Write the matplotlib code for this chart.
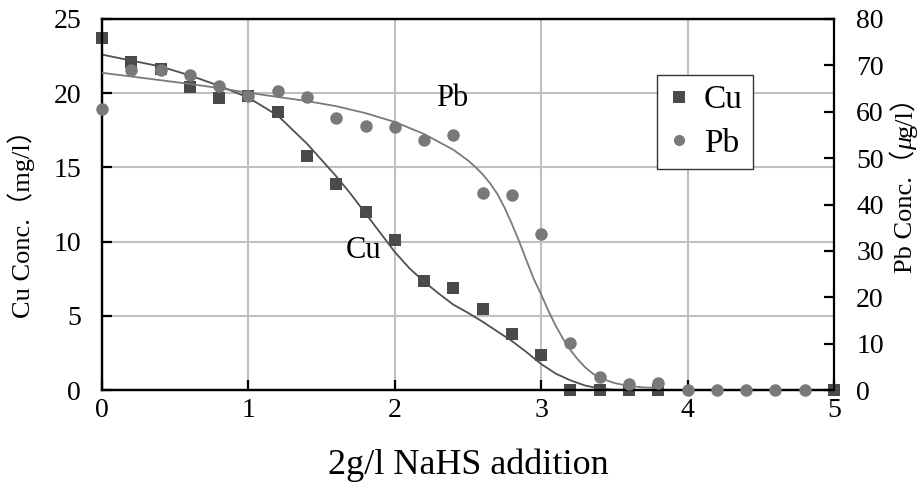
import numpy as np
import matplotlib
matplotlib.use("Agg")
import matplotlib.pyplot as plt
from matplotlib.lines import Line2D

plt.rcParams["font.family"] = ["Liberation Serif", "DejaVu Serif"]
SERIF_CJK = ["Liberation Serif", "Noto Sans CJK JP"]

# measured points
cu_x = [0.0, 0.2, 0.4, 0.6, 0.8, 1.0, 1.2, 1.4, 1.6, 1.8, 2.0, 2.2, 2.4,
        2.6, 2.8, 3.0, 3.2, 3.4, 3.6, 3.8, 5.0]
cu_y = [23.7, 22.1, 21.6, 20.4, 19.7, 19.8, 18.7, 15.8, 13.9, 12.0, 10.1, 7.35, 6.85,
        5.45, 3.75, 2.35, 0.0, 0.0, 0.0, 0.0, 0.0]

pb_x = [0.0, 0.2, 0.4, 0.6, 0.8, 1.0, 1.2, 1.4, 1.6, 1.8, 2.0, 2.2, 2.4,
        2.6, 2.8, 3.0, 3.2, 3.4, 3.6, 3.8, 4.0, 4.2, 4.4, 4.6, 4.8]
pb_y = [60.5, 68.9, 69.0, 67.9, 65.6, 63.4, 64.5, 63.1, 58.6, 57.0, 56.8, 53.9, 55.0,
        42.4, 42.0, 33.6, 10.2, 2.9, 1.3, 1.6, 0.0, 0.0, 0.0, 0.0, 0.0]

# fitted curves
cu_fit_x = [0.0, 0.2, 0.4, 0.6, 0.8, 1.0, 1.2, 1.4, 1.5, 1.6, 1.7, 1.8, 1.9, 2.0,
            2.1, 2.2, 2.3, 2.4, 2.5, 2.6, 2.7, 2.8, 2.9, 3.0, 3.1, 3.2, 3.3, 3.4,
            3.5, 3.6, 3.8]
cu_fit_y = [22.6, 22.2, 21.8, 21.2, 20.5, 19.7, 18.5, 16.6, 15.5, 14.4, 13.2, 11.9, 10.6, 9.3,
            8.2, 7.3, 6.5, 5.75, 5.2, 4.6, 3.95, 3.3, 2.55, 1.75, 1.1, 0.65, 0.3, 0.1,
            0.02, 0.0, 0.0]

pb_fit_x = [0.0, 0.2, 0.4, 0.6, 0.8, 1.0, 1.2, 1.4, 1.6, 1.8, 2.0, 2.2, 2.4, 2.5,
            2.55, 2.6, 2.65, 2.7, 2.75, 2.8, 2.85, 2.9, 2.95, 3.0, 3.05, 3.1, 3.15,
            3.2, 3.25, 3.3, 3.35, 3.4, 3.5, 3.6, 3.7, 3.8]
pb_fit_y = [68.4, 67.6, 66.8, 66.0, 65.1, 64.1, 63.2, 62.3, 61.2, 59.7, 57.8, 55.2, 51.8, 49.5,
            48.1, 46.5, 44.6, 42.3, 39.3, 35.8, 32.0, 27.9, 23.9, 20.6, 17.0, 13.8, 11.0,
            8.6, 6.6, 4.9, 3.6, 2.6, 1.5, 0.85, 0.55, 0.45]

CU_COLOR = "#4a4a4a"
PB_COLOR = "#797979"

fig = plt.figure(figsize=(9.21, 4.93), dpi=100)
ax = fig.add_axes([102 / 921, 1 - 390 / 493, (834 - 102) / 921, (390 - 19) / 493])
ax2 = ax.twinx()

ax.set_xlim(0, 5)
ax.set_ylim(0, 25)
ax2.set_ylim(0, 80)
ax.set_xticks(range(0, 6))
ax.set_yticks(range(0, 26, 5))
ax2.set_yticks(range(0, 81, 10))

ax.grid(color="#c0c0c0", linewidth=1.5)
ax.set_axisbelow(True)

for a in (ax, ax2):
    for s in a.spines.values():
        s.set_linewidth(1.6)
        s.set_color("black")
ax2.spines["right"].set_linewidth(1.2)

ax.tick_params(axis="both", direction="in", length=7, width=1.6, labelsize=20)
ax.tick_params(axis="y", pad=15)
ax.tick_params(axis="x", pad=6)
ax2.tick_params(axis="y", direction="in", length=7, width=1.6, labelsize=20, pad=16)

ax.plot(cu_x, cu_y, "s", color=CU_COLOR, markersize=8.8, markeredgewidth=0,
        clip_on=False, zorder=3)
ax.plot(cu_fit_x, cu_fit_y, "-", color="#505050", linewidth=1.3, zorder=4)
ax2.plot(pb_x, pb_y, "o", color=PB_COLOR, markersize=9, markeredgewidth=0,
         clip_on=False, zorder=3)
ax2.plot(pb_fit_x, pb_fit_y, "-", color="#7a7a7a", linewidth=1.3, zorder=4)

ax.text(1.785, 9.43, "Cu", fontsize=22, ha="center", va="center")
ax.text(2.39, 19.66, "Pb", fontsize=22, ha="center", va="center")

handles = [
    Line2D([], [], marker="s", linestyle="none", color=CU_COLOR, markersize=8, markeredgewidth=0),
    Line2D([], [], marker="o", linestyle="none", color=PB_COLOR, markersize=8, markeredgewidth=0),
]
leg = ax2.legend(handles, ["Cu", "Pb"], loc="upper left",
                 bbox_to_anchor=(657 / 921, 1 - 75 / 493), bbox_transform=fig.transFigure,
                 fontsize=24, frameon=True, fancybox=False, framealpha=1,
                 edgecolor="#333333", handlelength=0.7, handletextpad=0.4,
                 borderpad=0.3, labelspacing=0.38, borderaxespad=0)
leg.get_frame().set_linewidth(1.0)

fig.text(468 / 921, 1 - 465 / 493, "2g/l NaHS addition", fontsize=26,
         ha="center", va="center")

# left axis title (full-width brackets as in the original)
fig.text(21 / 921, 1 - 217 / 493, "Cu Conc.（mg/l）", fontsize=19, family=SERIF_CJK,
         rotation=90, ha="center", va="center")

# right axis title, built in pieces so that the mu can be italic
xb = 912 / 921
t1 = fig.text(xb, 1 - 273 / 493, "Pb Conc.（", fontsize=19, family=SERIF_CJK,
              rotation=90, rotation_mode="anchor", ha="left", va="baseline")
t2 = fig.text(0, 0, "μ", fontsize=19, style="italic", rotation=90,
              rotation_mode="anchor", ha="left", va="baseline")
t3 = fig.text(0, 0, "g/l）", fontsize=19, family=SERIF_CJK,
              rotation=90, rotation_mode="anchor", ha="left", va="baseline")
fig.canvas.draw()
r = fig.canvas.get_renderer()
inv = fig.transFigure.inverted()
top1 = inv.transform((0, t1.get_window_extent(r).y1))[1]
t2.set_position((xb, top1))
fig.canvas.draw()
top2 = inv.transform((0, t2.get_window_extent(r).y1))[1]
t3.set_position((xb, top2))

fig.savefig("out.png", dpi=100)
